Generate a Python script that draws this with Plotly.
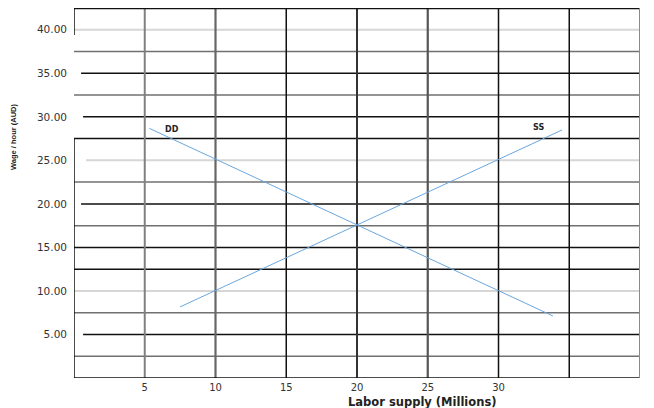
import plotly.graph_objects as go

# ---- data ----
dd_x = [5.32, 33.85]
dd_y = [28.68, 7.12]
ss_x = [7.49, 34.49]
ss_y = [8.16, 28.49]
curve_names = ["DD", "SS"]
curve_label_x = [6.93, 32.8]
curve_label_y = [28.6, 28.8]

x_tickvals = [5, 10, 15, 20, 25, 30]
x_ticktext = ["5", "10", "15", "20", "25", "30"]
y_tickvals = [5, 10, 15, 20, 25, 30, 35, 40]
y_ticktext = ["5.00", "10.00", "15.00", "20.00", "25.00", "30.00", "35.00", "40.00"]

x_title = "Labor supply (Millions)"
y_title = "Wage / hour (AUD)"

X_MAX, Y_MAX = 40, 42.5
LINE_BLUE = "#6aa6de"

fig = go.Figure()
fig.add_trace(go.Scatter(x=dd_x, y=dd_y, mode="lines", line=dict(color=LINE_BLUE, width=1),
                         name=curve_names[0], showlegend=False, hoverinfo="skip"))
fig.add_trace(go.Scatter(x=ss_x, y=ss_y, mode="lines", line=dict(color=LINE_BLUE, width=1),
                         name=curve_names[1], showlegend=False, hoverinfo="skip"))

shapes = []
# horizontal grid (every 2.5): (value, colour, width, start)
h_grid = [
    (40, "#d6d6d6", 2, 0), (37.5, "#707070", 1.5, 0), (35, "#111111", 1.5, 0.5),
    (32.5, "#707070", 1.5, 0), (30, "#111111", 1.5, 0.64), (27.5, "#111111", 1.5, 0),
    (25, "#d6d6d6", 2, 0.85), (22.5, "#707070", 1.5, 0), (20, "#111111", 1.5, 0.5),
    (17.5, "#707070", 1.5, 0), (15, "#111111", 1.5, 0), (12.5, "#111111", 1.5, 0),
    (10, "#d6d6d6", 2, 0), (7.5, "#707070", 1.5, 0), (5, "#111111", 1.5, 0.64),
    (2.5, "#707070", 1.5, 0),
]
for val, col, w, x0 in h_grid:
    shapes.append(dict(type="line", xref="x", yref="y", x0=x0, x1=X_MAX, y0=val, y1=val,
                       line=dict(color=col, width=w), layer="below"))
# vertical grid
v_grid = [(5, "#808080", 2), (10, "#666666", 2.2), (15, "#111111", 1.5), (20, "#333333", 2),
          (25, "#555555", 2.2), (30, "#111111", 1.5), (35, "#111111", 1.5)]
for val, col, w in v_grid:
    shapes.append(dict(type="line", xref="x", yref="y", x0=val, x1=val, y0=0, y1=Y_MAX,
                       line=dict(color=col, width=w), layer="below"))
# frame
shapes += [
    dict(type="line", xref="x", yref="y", x0=0, x1=X_MAX, y0=Y_MAX, y1=Y_MAX,
         line=dict(color="#111111", width=2.5), layer="below"),
    dict(type="line", xref="x", yref="y", x0=0, x1=X_MAX, y0=0, y1=0,
         line=dict(color="#111111", width=1.5), layer="below"),
    dict(type="line", xref="x", yref="y", x0=X_MAX, x1=X_MAX, y0=0, y1=Y_MAX,
         line=dict(color="#8a8a8a", width=2), layer="below"),
    dict(type="line", xref="x", yref="y", x0=0, x1=0, y0=0, y1=27.5,
         line=dict(color="#111111", width=1.5), layer="below"),
    dict(type="line", xref="x", yref="y", x0=0, x1=0, y0=39.4, y1=Y_MAX,
         line=dict(color="#111111", width=1.5), layer="below"),
]

annotations = []
for name, lx, ly in zip(curve_names, curve_label_x, curve_label_y):
    annotations.append(dict(x=lx, y=ly, xref="x", yref="y", text="<b>" + name + "</b>",
                            showarrow=False, font=dict(family="DejaVu Sans", size=8, color="#222222")))
annotations.append(dict(x=0.615, y=-0.065, xref="paper", yref="paper", text="<b>" + x_title + "</b>",
                        showarrow=False, xanchor="center", yanchor="middle",
                        font=dict(family="DejaVu Sans", size=11.5, color="#222222")))
annotations.append(dict(x=-66 / 566, y=0.65, xref="paper", yref="paper", text="<b>" + y_title + "</b>",
                        showarrow=False, textangle=-90, xanchor="left", yanchor="middle",
                        borderpad=0,
                        font=dict(family="Liberation Sans Narrow, Liberation Sans", size=7.5, color="#222222")))

# the page body adds an 8px margin, so the figure is sized/offset to compensate
fig.update_layout(
    width=646, height=400,
    margin=dict(l=66, r=14, t=0, b=30),
    paper_bgcolor="white", plot_bgcolor="white",
    shapes=shapes, annotations=annotations,
    showlegend=False,
    xaxis=dict(range=[0, X_MAX], tickvals=x_tickvals, ticktext=x_ticktext, showgrid=False,
               zeroline=False, showline=False, ticks="", ticklabelstandoff=2,
               tickfont=dict(family="DejaVu Sans", size=10, color="#333333")),
    yaxis=dict(range=[0, Y_MAX], tickvals=y_tickvals, ticktext=y_ticktext, showgrid=False,
               zeroline=False, showline=False, ticks="", ticklabelstandoff=6,
               tickfont=dict(family="DejaVu Sans", size=10.5, color="#333333")),
)

fig.write_html("out.html")
